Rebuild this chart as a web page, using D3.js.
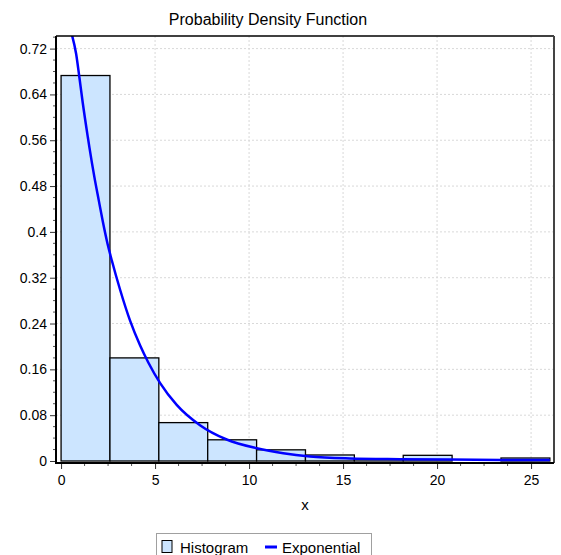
<!DOCTYPE html>
<html>
<head>
<meta charset="utf-8">
<script src="https://cdn.jsdelivr.net/npm/d3@7"></script>
<style>
  html, body { margin: 0; padding: 0; background: #ffffff; }
  svg { display: block; font-family: "Liberation Sans", Arial, sans-serif; }
</style>
</head>
<body>
<div id="chart"></div>
<script>
// Histogram bins (edges) and relative frequencies
const binEdges = [0, 2.6, 5.2, 7.8, 10.4, 13.0, 15.6, 18.2, 20.8, 23.4, 26.0];
const binHeights = [0.673, 0.180, 0.067, 0.037, 0.0195, 0.0105, 0.004, 0.0099, 0, 0.0052];

// Fitted exponential density, sampled along x
const curveX = [0.585, 0.80, 0.973, 1.154, 1.42, 1.505, 1.77, 2.005, 2.22, 2.48, 2.70, 3.14, 3.67, 4.20, 4.64, 5.27, 6.15, 7.39, 8.81, 10.41, 11.82, 13.24, 15.37, 18.03, 20.69, 23.5, 26.0];
const curveY = [0.743, 0.711, 0.670, 0.625, 0.566, 0.548, 0.496, 0.455, 0.418, 0.378, 0.350, 0.299, 0.245, 0.202, 0.172, 0.136, 0.098, 0.0625, 0.0375, 0.0222, 0.0134, 0.0078, 0.0045, 0.0032, 0.0024, 0.0019, 0.0016];

// Axis ticks
const xTicks = [0, 5, 10, 15, 20, 25];
const yTicks = [0, 0.08, 0.16, 0.24, 0.32, 0.4, 0.48, 0.56, 0.64, 0.72];
const yTickLabels = ["0", "0.08", "0.16", "0.24", "0.32", "0.4", "0.48", "0.56", "0.64", "0.72"];

const titleText = "Probability Density Function";
const xTitle = "x";
const legendLabels = ["Histogram", "Exponential"];

const W = 561, H = 555;
const plot = { left: 56, right: 554, top: 36, bottom: 463 };

const svg = d3.select("#chart").append("svg")
  .attr("width", W).attr("height", H);

const x = d3.scaleLinear().domain([-0.27, 26.22]).range([plot.left, plot.right]);
const y = d3.scaleLinear().domain([-0.0035, 0.742]).range([plot.bottom, plot.top]);

// Grid lines (dotted)
const grid = svg.append("g");
grid.selectAll("line.gx").data(xTicks.filter(d => d > 0)).join("line")
  .attr("x1", d => x(d)).attr("x2", d => x(d))
  .attr("y1", plot.top).attr("y2", plot.bottom)
  .attr("stroke", "#d9d9d9").attr("stroke-width", 1).attr("stroke-dasharray", "2,2");
grid.selectAll("line.gy").data(yTicks.filter(d => d > 0)).join("line")
  .attr("x1", plot.left).attr("x2", plot.right)
  .attr("y1", d => y(d)).attr("y2", d => y(d))
  .attr("stroke", "#d9d9d9").attr("stroke-width", 1).attr("stroke-dasharray", "2,2");

// Histogram bars
const bins = binHeights.map((h, i) => ({ x0: binEdges[i], x1: binEdges[i + 1], h }));
svg.append("g").selectAll("rect").data(bins.filter(b => b.h > 0)).join("rect")
  .attr("x", d => x(d.x0))
  .attr("y", d => y(d.h))
  .attr("width", d => x(d.x1) - x(d.x0))
  .attr("height", d => y(0) - y(d.h))
  .attr("fill", "#cce5ff")
  .attr("stroke", "#000000")
  .attr("stroke-width", 1.3);

// Density curve, clipped to the plot area
svg.append("clipPath").attr("id", "plotClip").append("rect")
  .attr("x", plot.left).attr("y", plot.top)
  .attr("width", plot.right - plot.left).attr("height", plot.bottom - plot.top);

const line = d3.line()
  .x(d => x(d[0])).y(d => y(d[1]))
  .curve(d3.curveMonotoneX);
svg.append("path")
  .datum(curveX.map((v, i) => [v, curveY[i]]))
  .attr("clip-path", "url(#plotClip)")
  .attr("d", line)
  .attr("fill", "none")
  .attr("stroke", "#0000ff")
  .attr("stroke-width", 2.5);

// Plot frame
svg.append("line").attr("x1", plot.left).attr("x2", plot.right)
  .attr("y1", plot.top).attr("y2", plot.top)
  .attr("stroke", "#000").attr("stroke-width", 1.5);
svg.append("line").attr("x1", plot.right).attr("x2", plot.right)
  .attr("y1", plot.top).attr("y2", plot.bottom)
  .attr("stroke", "#444").attr("stroke-width", 2);

// Y axis
const yAxis = d3.axisLeft(y).tickValues(yTicks)
  .tickFormat((d, i) => yTickLabels[i]).tickSize(6).tickPadding(3);
const gy = svg.append("g").attr("transform", `translate(${plot.left},0)`).call(yAxis);
gy.select(".domain").remove();
gy.selectAll("text").attr("font-size", 14).attr("fill", "#000").attr("font-family", "'Liberation Sans', Arial, sans-serif");
gy.selectAll(".tick line").attr("stroke", "#333");
const yMinor = d3.range(0, 0.7401, 0.02).filter(v => yTicks.every(t => Math.abs(t - v) > 1e-6));
svg.append("g").selectAll("line").data(yMinor).join("line")
  .attr("x1", plot.left - 3).attr("x2", plot.left)
  .attr("y1", d => y(d)).attr("y2", d => y(d))
  .attr("stroke", "#555").attr("stroke-width", 1);
svg.append("line").attr("x1", plot.left).attr("x2", plot.left)
  .attr("y1", plot.top).attr("y2", plot.bottom + 1)
  .attr("stroke", "#000").attr("stroke-width", 2);

// X axis
const xAxis = d3.axisBottom(x).tickValues(xTicks).tickSize(6).tickPadding(6);
const gx = svg.append("g").attr("transform", `translate(0,${plot.bottom})`).call(xAxis);
gx.select(".domain").remove();
gx.selectAll("text").attr("font-size", 14).attr("fill", "#000").attr("font-family", "'Liberation Sans', Arial, sans-serif");
gx.selectAll(".tick line").attr("stroke", "#333");
const xMinor = d3.range(0, 26.01, 1.25).filter(v => xTicks.every(t => Math.abs(t - v) > 1e-6));
svg.append("g").selectAll("line").data(xMinor).join("line")
  .attr("x1", d => x(d)).attr("x2", d => x(d))
  .attr("y1", plot.bottom).attr("y2", plot.bottom + 3)
  .attr("stroke", "#555").attr("stroke-width", 1);
svg.append("line").attr("x1", plot.left - 1).attr("x2", plot.right)
  .attr("y1", plot.bottom).attr("y2", plot.bottom)
  .attr("stroke", "#000").attr("stroke-width", 2);

// Titles
svg.append("text").attr("x", 268).attr("y", 25).attr("text-anchor", "middle")
  .attr("font-size", 16).attr("fill", "#000").text(titleText);
svg.append("text").attr("x", 305).attr("y", 510).attr("text-anchor", "middle")
  .attr("font-size", 15).attr("fill", "#000").text(xTitle);

// Legend
const lg = svg.append("g");
lg.append("rect").attr("x", 156.5).attr("y", 533.5).attr("width", 215).attr("height", 30)
  .attr("fill", "#fff").attr("stroke", "#a0a0a0").attr("stroke-width", 1);
lg.append("rect").attr("x", 162).attr("y", 540.5).attr("width", 10).attr("height", 12)
  .attr("fill", "#cce5ff").attr("stroke", "#000").attr("stroke-width", 1);
lg.append("text").attr("x", 180).attr("y", 553).attr("font-size", 15).attr("fill", "#000")
  .text(legendLabels[0]);
lg.append("line").attr("x1", 265).attr("x2", 277).attr("y1", 547).attr("y2", 547)
  .attr("stroke", "#0000ff").attr("stroke-width", 3);
lg.append("text").attr("x", 282).attr("y", 553).attr("font-size", 15).attr("fill", "#000")
  .text(legendLabels[1]);
</script>
</body>
</html>
